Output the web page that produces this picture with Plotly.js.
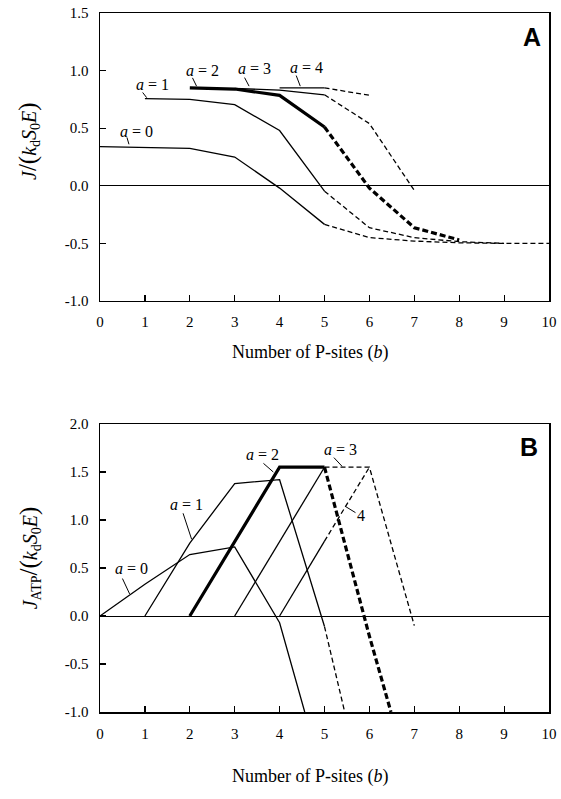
<!DOCTYPE html>
<html>
<head>
<meta charset="utf-8">
<script src="https://cdn.plot.ly/plotly-3.0.1.min.js"></script>
<style>
  html, body { margin: 0; padding: 0; background: #fff; }
  #chart { width: 561px; height: 799px; }
</style>
</head>
<body>
<div id="chart"></div>
<script>
// ---------- Tick labels ----------
const xTickVals = [0, 1, 2, 3, 4, 5, 6, 7, 8, 9, 10];
const xTickText = ["0", "1", "2", "3", "4", "5", "6", "7", "8", "9", "10"];
const yTickValsA = [-1.0, -0.5, 0.0, 0.5, 1.0, 1.5];
const yTickTextA = ["-1.0", "-0.5", "0.0", "0.5", "1.0", "1.5"];
const yTickValsB = [-1.0, -0.5, 0.0, 0.5, 1.0, 1.5, 2.0];
const yTickTextB = ["-1.0", "-0.5", "0.0", "0.5", "1.0", "1.5", "2.0"];

// ---------- Panel A: J/(kd S0 E) vs number of P-sites b ----------
const A_a0_solid_x = [0, 1, 2, 3, 4, 5];
const A_a0_solid_y = [0.34, 0.335, 0.325, 0.25, -0.02, -0.335];
const A_a0_dash_x = [5, 6, 7, 8, 9, 10];
const A_a0_dash_y = [-0.335, -0.45, -0.48, -0.495, -0.5, -0.5];

const A_a1_solid_x = [1, 2, 3, 4, 5];
const A_a1_solid_y = [0.757, 0.75, 0.705, 0.48, -0.047];
const A_a1_dash_x = [5, 6, 7, 8, 9];
const A_a1_dash_y = [-0.047, -0.364, -0.45, -0.485, -0.5];

const A_a2_solid_x = [2, 3, 4, 5];
const A_a2_solid_y = [0.85, 0.84, 0.785, 0.51];
const A_a2_dash_x = [5, 6, 7, 8];
const A_a2_dash_y = [0.51, -0.02, -0.364, -0.47];

const A_a3_solid_x = [3, 4, 5];
const A_a3_solid_y = [0.845, 0.83, 0.79];
const A_a3_dash_x = [5, 6, 7];
const A_a3_dash_y = [0.79, 0.54, -0.04];

const A_a4_solid_x = [4, 5];
const A_a4_solid_y = [0.85, 0.85];
const A_a4_dash_x = [5, 6];
const A_a4_dash_y = [0.85, 0.786];

// ---------- Panel B: J_ATP/(kd S0 E) vs number of P-sites b ----------
const B_a0_solid_x = [0, 1, 2, 3, 4, 4.56];
const B_a0_solid_y = [0, 0.33, 0.64, 0.72, -0.07, -1.0];

const B_a1_solid_x = [1, 2, 3, 4, 5];
const B_a1_solid_y = [0, 0.76, 1.38, 1.42, -0.11];
const B_a1_dash_x = [5, 5.45];
const B_a1_dash_y = [-0.11, -1.0];

const B_a2_solid_x = [2, 3, 4, 5];
const B_a2_solid_y = [0, 0.77, 1.55, 1.55];
const B_a2_dash_x = [5, 6, 6.48];
const B_a2_dash_y = [1.55, -0.21, -1.0];

const B_a3_solid_x = [3, 4, 5];
const B_a3_solid_y = [0, 0.77, 1.55];
const B_a3_dash_x = [5, 6, 7];
const B_a3_dash_y = [1.55, 1.55, -0.1];

const B_a4_solid_x = [4, 5];
const B_a4_solid_y = [0, 0.78];
const B_a4_dash_x = [5, 6];
const B_a4_dash_y = [0.78, 1.55];

// ---------- Styles ----------
const THIN = 1.3, THICK = 3.2;
const DASH_THIN = "5px,3px", DASH_THICK = "6px,3px";

function tr(x, y, xa, ya, width, dash) {
  return {
    type: "scatter", mode: "lines", x: x, y: y, xaxis: xa, yaxis: ya,
    line: { color: "#000", width: width, dash: dash || "solid" },
    hoverinfo: "skip", showlegend: false
  };
}

const traces = [
  tr(A_a0_solid_x, A_a0_solid_y, "x", "y", THIN),
  tr(A_a0_dash_x, A_a0_dash_y, "x", "y", THIN, DASH_THIN),
  tr(A_a1_solid_x, A_a1_solid_y, "x", "y", THIN),
  tr(A_a1_dash_x, A_a1_dash_y, "x", "y", THIN, DASH_THIN),
  tr(A_a3_solid_x, A_a3_solid_y, "x", "y", THIN),
  tr(A_a3_dash_x, A_a3_dash_y, "x", "y", THIN, DASH_THIN),
  tr(A_a4_solid_x, A_a4_solid_y, "x", "y", THIN),
  tr(A_a4_dash_x, A_a4_dash_y, "x", "y", THIN, DASH_THIN),
  tr(A_a2_solid_x, A_a2_solid_y, "x", "y", THICK),
  tr(A_a2_dash_x, A_a2_dash_y, "x", "y", THICK, DASH_THICK),

  tr(B_a0_solid_x, B_a0_solid_y, "x2", "y2", THIN),
  tr(B_a1_solid_x, B_a1_solid_y, "x2", "y2", THIN),
  tr(B_a1_dash_x, B_a1_dash_y, "x2", "y2", THIN, DASH_THIN),
  tr(B_a3_solid_x, B_a3_solid_y, "x2", "y2", THIN),
  tr(B_a3_dash_x, B_a3_dash_y, "x2", "y2", THIN, DASH_THIN),
  tr(B_a4_solid_x, B_a4_solid_y, "x2", "y2", THIN),
  tr(B_a4_dash_x, B_a4_dash_y, "x2", "y2", THIN, DASH_THIN),
  tr(B_a2_solid_x, B_a2_solid_y, "x2", "y2", THICK),
  tr(B_a2_dash_x, B_a2_dash_y, "x2", "y2", THICK, DASH_THICK)
];

const SERIF = '"Liberation Serif", "Times New Roman", "DejaVu Serif", serif';
const SANS = '"Liberation Sans", Arial, sans-serif';

function xAxis(anchor) {
  return {
    anchor: anchor, domain: [0, 1], range: [0, 10],
    tickmode: "array", tickvals: xTickVals, ticktext: xTickText,
    ticks: "inside", ticklen: 6, tickwidth: 1.2, tickcolor: "#000",
    showline: true, linecolor: "#000", linewidth: 1.5, mirror: true,
    showgrid: false, zeroline: false, ticklabelstandoff: 7,
    tickfont: { family: SERIF, size: 15, color: "#000" }, fixedrange: true
  };
}
function yAxis(anchor, domain, range, vals, text) {
  return {
    anchor: anchor, domain: domain, range: range,
    tickmode: "array", tickvals: vals, ticktext: text,
    ticks: "inside", ticklen: 6, tickwidth: 1.2, tickcolor: "#000",
    showline: true, linecolor: "#000", linewidth: 1.5, mirror: true,
    showgrid: false, zeroline: true, zerolinecolor: "#000", zerolinewidth: 1,
    ticklabelstandoff: 7,
    tickfont: { family: SERIF, size: 15, color: "#000" }, fixedrange: true
  };
}

const lab = (t, x, y, xr, yr) => ({
  text: t, x: x, y: y, xref: xr, yref: yr, showarrow: false,
  xanchor: "center", yanchor: "middle",
  font: { family: SERIF, size: 16, color: "#000" }
});

const BIG = '<span style="font-size:25px">';
const yTitleA = '<i>J</i>' + BIG + '/(</span><i>k</i><sub>d</sub><i>S</i><sub>0</sub><i>E</i>' + BIG + ')</span>';
const yTitleB = '<i>J</i><sub>ATP</sub>' + BIG + '/(</span><i>k</i><sub>d</sub><i>S</i><sub>0</sub><i>E</i>' + BIG + ')</span>';

const annotations = [
  // panel A curve labels
  lab("<i>a</i> = 0", 0.82, 0.47, "x", "y"),
  lab("<i>a</i> = 1", 1.17, 0.88, "x", "y"),
  lab("<i>a</i> = 2", 2.28, 1.0, "x", "y"),
  lab("<i>a</i> = 3", 3.43, 1.015, "x", "y"),
  lab("<i>a</i> = 4", 4.59, 1.03, "x", "y"),
  // panel B curve labels
  lab("<i>a</i> = 0", 0.70, 0.50, "x2", "y2"),
  lab("<i>a</i> = 1", 1.92, 1.165, "x2", "y2"),
  lab("<i>a</i> = 2", 3.62, 1.685, "x2", "y2"),
  lab("<i>a</i> = 3", 5.35, 1.73, "x2", "y2"),
  lab("4", 5.82, 1.05, "x2", "y2"),
  // panel letters
  { text: "<b>A</b>", x: 9.63, y: 1.29, xref: "x", yref: "y", showarrow: false,
    xanchor: "center", yanchor: "middle", font: { family: SANS, size: 25, color: "#000" } },
  { text: "<b>B</b>", x: 9.55, y: 1.765, xref: "x2", yref: "y2", showarrow: false,
    xanchor: "center", yanchor: "middle", font: { family: SANS, size: 25, color: "#000" } },
  // axis titles
  { text: "Number of P-sites (<i>b</i>)", x: 0.468, y: 0.5136, xref: "paper", yref: "paper",
    showarrow: false, xanchor: "center", yanchor: "middle", font: { family: SERIF, size: 18, color: "#000" } },
  { text: "Number of P-sites (<i>b</i>)", x: 0.468, y: -0.0916, xref: "paper", yref: "paper",
    showarrow: false, xanchor: "center", yanchor: "middle", font: { family: SERIF, size: 18, color: "#000" } },
  { text: yTitleA, x: -0.158, y: 0.817, xref: "paper", yref: "paper", textangle: -90,
    showarrow: false, xanchor: "center", yanchor: "middle", font: { family: SERIF, size: 20, color: "#000" } },
  { text: yTitleB, x: -0.158, y: 0.22, xref: "paper", yref: "paper", textangle: -90,
    showarrow: false, xanchor: "center", yanchor: "middle", font: { family: SERIF, size: 20, color: "#000" } }
];

const leader = (x0, y0, x1, y1, xr, yr) => ({
  type: "line", x0: x0, y0: y0, x1: x1, y1: y1, xref: xr, yref: yr,
  line: { color: "#000", width: 1 }
});

const shapes = [
  leader(0.60, 0.42, 0.645, 0.36, "x", "y"),
  leader(0.95, 0.81, 1.04, 0.765, "x", "y"),
  leader(2.06, 0.937, 2.15, 0.865, "x", "y"),
  leader(3.22, 0.939, 3.32, 0.865, "x", "y"),
  leader(4.37, 0.957, 4.46, 0.865, "x", "y"),
  leader(0.50, 0.39, 0.66, 0.23, "x2", "y2"),
  leader(1.85, 1.07, 2.04, 0.80, "x2", "y2"),
  leader(3.64, 1.59, 3.86, 1.50, "x2", "y2"),
  leader(5.21, 1.65, 5.39, 1.56, "x2", "y2"),
  leader(5.47, 1.14, 5.69, 1.077, "x2", "y2")
];

const layout = {
  width: 561, height: 799,
  margin: { l: 100, r: 12, t: 13, b: 87, pad: 0 },
  paper_bgcolor: "#fff", plot_bgcolor: "#fff",
  showlegend: false,
  font: { family: SERIF, size: 15, color: "#000" },
  xaxis: xAxis("y"),
  yaxis: yAxis("x", [0.588, 1], [-1, 1.5], yTickValsA, yTickTextA),
  xaxis2: xAxis("y2"),
  yaxis2: yAxis("x2", [0, 0.412], [-1, 2], yTickValsB, yTickTextB),
  annotations: annotations,
  shapes: shapes
};

Plotly.newPlot("chart", traces, layout, { staticPlot: true, displayModeBar: false });
</script>
</body>
</html>
